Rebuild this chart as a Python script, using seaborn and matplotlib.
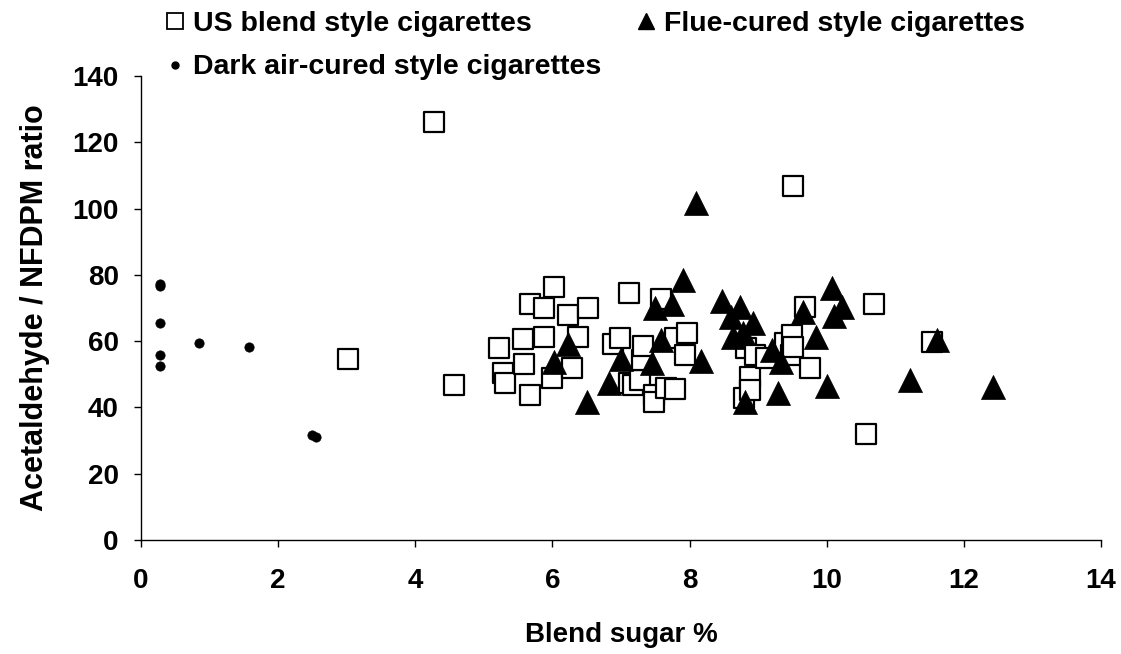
import matplotlib
matplotlib.use("Agg")
import matplotlib.pyplot as plt
from matplotlib.lines import Line2D
import seaborn as sns
import pandas as pd

# ---- data ----
us_x = [3.02, 4.27, 4.56, 5.22, 5.28, 5.31, 5.57, 5.59, 5.67, 5.67, 5.87, 5.87,
        6.00, 6.02, 6.23, 6.28, 6.37, 6.52, 6.88, 6.99, 7.12, 7.11, 7.18, 7.28,
        7.30, 7.32, 7.48, 7.48, 7.59, 7.66, 7.79, 7.79, 7.93, 7.96, 8.79, 8.83,
        8.88, 8.88, 8.95, 9.12, 9.39, 9.48, 9.49, 9.51, 9.51, 9.68, 9.76, 10.57,
        10.69, 11.53]
us_y = [54.6, 126.1, 46.7, 58.0, 50.3, 47.3, 60.6, 53.0, 71.2, 43.8, 69.9, 61.3,
        48.8, 76.2, 67.9, 51.8, 61.3, 69.9, 59.1, 60.8, 74.4, 47.3, 46.8, 48.3,
        54.3, 58.5, 43.8, 41.7, 72.6, 45.8, 60.8, 45.6, 55.8, 62.5, 42.8, 57.8,
        49.3, 45.3, 55.8, 54.8, 59.4, 55.8, 61.9, 58.3, 106.8, 70.4, 51.8, 32.0,
        71.1, 59.7]

flue_x = [6.02, 6.22, 6.50, 6.83, 7.00, 7.45, 7.50, 7.58, 7.74, 7.90, 8.09, 8.17,
          8.47, 8.61, 8.64, 8.73, 8.78, 8.81, 8.93, 9.20, 9.29, 9.34, 9.65, 9.84,
          10.01, 10.07, 10.10, 10.22, 11.21, 11.61, 12.42]
flue_y = [53.8, 59.1, 41.5, 47.3, 54.6, 53.5, 69.9, 60.3, 71.1, 78.5, 101.7, 54.0,
          72.2, 67.2, 61.3, 70.2, 62.4, 41.7, 65.4, 57.3, 44.5, 53.8, 68.9, 61.3,
          46.5, 76.1, 67.6, 70.4, 48.3, 60.3, 46.3]

dark_x = [0.27, 0.27, 0.27, 0.27, 0.27, 0.85, 1.58, 2.49, 2.55]
dark_y = [77.3, 76.5, 65.6, 55.9, 52.5, 59.4, 58.2, 31.7, 31.1]

labels = ["US blend style cigarettes", "Flue-cured style cigarettes",
          "Dark air-cured style cigarettes"]
x_ticks = [0, 2, 4, 6, 8, 10, 12, 14]
y_ticks = [0, 20, 40, 60, 80, 100, 120, 140]

# ---- styling ----
sns.set_theme(style="ticks")
plt.rcParams["font.family"] = ["Liberation Sans", "DejaVu Sans"]
plt.rcParams["font.weight"] = "bold"
plt.rcParams["text.color"] = "black"
plt.rcParams["axes.labelcolor"] = "black"
plt.rcParams["xtick.color"] = "black"
plt.rcParams["ytick.color"] = "black"

fig = plt.figure(figsize=(11.21, 6.54), dpi=100)
ax = fig.add_axes([141 / 1121, 1 - 540 / 654, 960 / 1121, 464 / 654])

us = pd.DataFrame({"x": us_x, "y": us_y})
fl = pd.DataFrame({"x": flue_x, "y": flue_y})
dk = pd.DataFrame({"x": dark_x, "y": dark_y})

sns.scatterplot(data=us, x="x", y="y", ax=ax, marker="s", s=190,
                facecolor="white", edgecolor="black", linewidth=1.6,
                legend=False, zorder=3)
sns.scatterplot(data=fl, x="x", y="y", ax=ax, marker="^", s=300,
                color="black", edgecolor="black", linewidth=0.5,
                legend=False, zorder=4)
sns.scatterplot(data=dk, x="x", y="y", ax=ax, marker="o", s=45,
                color="black", edgecolor="black", linewidth=0.5,
                legend=False, zorder=5)

ax.set_xlim(0, 14)
ax.set_ylim(0, 140)
ax.set_xticks(x_ticks)
ax.set_yticks(y_ticks)
ax.tick_params(axis="both", direction="out", length=5, width=1, color="black",
               labelsize=20, labelcolor="black")
ax.tick_params(axis="x", pad=15)
ax.tick_params(axis="y", pad=11)
for lab in ax.get_xticklabels() + ax.get_yticklabels():
    lab.set_fontweight("bold")
sns.despine(ax=ax)
for sp in ["left", "bottom"]:
    ax.spines[sp].set_color("black")
    ax.spines[sp].set_linewidth(1.0)

ax.set_xlabel("Blend sugar %", fontsize=20, fontweight="bold", labelpad=20,
              color="black")
ax.set_ylabel("Acetaldehyde / NFDPM ratio", fontsize=22, fontweight="bold",
              labelpad=16, color="black")

handles = [
    Line2D([], [], linestyle="none", marker="s", markersize=11,
           markerfacecolor="white", markeredgecolor="black", markeredgewidth=1.3),
    Line2D([], [], linestyle="none", marker="o", markersize=5,
           markerfacecolor="black", markeredgecolor="black"),
    Line2D([], [], linestyle="none", marker="^", markersize=11,
           markerfacecolor="black", markeredgecolor="black"),
]
fig.legend(handles, [labels[0], labels[2], labels[1]], ncol=2,
           loc="upper left", bbox_to_anchor=(152 / 1121, 1.0),
           frameon=False, handlelength=0.8, handletextpad=0.25,
           columnspacing=1.15, labelspacing=0.6, borderaxespad=0.0,
           labelcolor="black",
           prop={"weight": "bold", "size": 20.5})

fig.savefig("out.png", dpi=100)
